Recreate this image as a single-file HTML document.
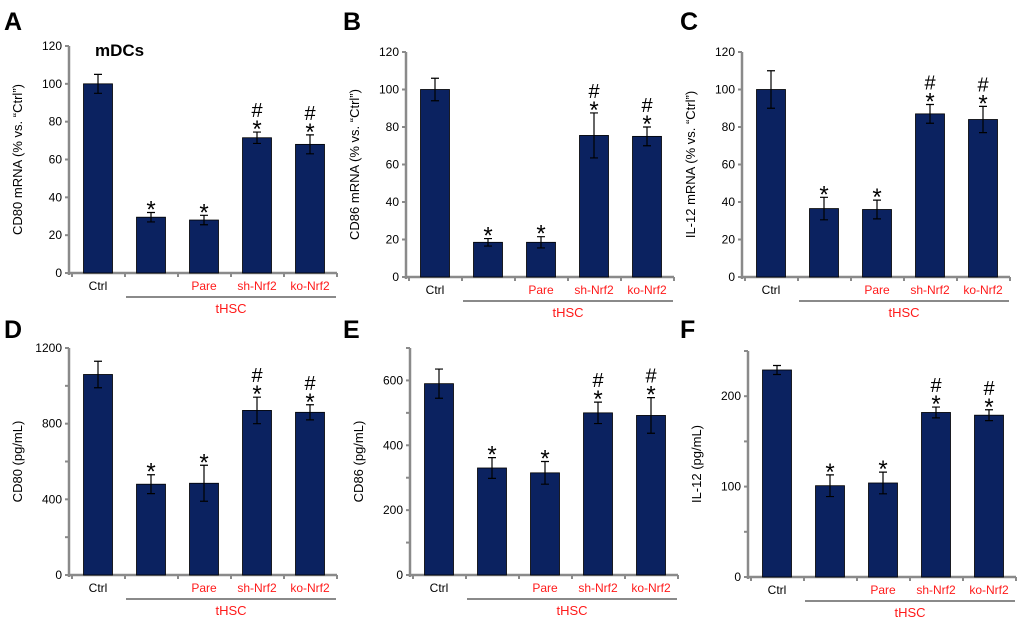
<!DOCTYPE html>
<html><head><meta charset="utf-8"><style>
html,body{margin:0;padding:0;background:#fff;}
svg{display:block;font-family:"Liberation Sans",Arial,sans-serif;}
</style></head><body>
<svg id="fig" width="1020" height="622" viewBox="0 0 1020 622" xmlns="http://www.w3.org/2000/svg"></svg>
<script>
const categories = ["Ctrl", "", "Pare", "sh-Nrf2", "ko-Nrf2"];
const valuesA = [100, 29.5, 28, 71.5, 68];
const errorsA = [5, 2.5, 2.5, 3, 5];
const valuesB = [100, 18.5, 18.5, 75.5, 75];
const errorsB = [6, 2, 3, 12, 5];
const valuesC = [100, 36.5, 36, 87, 84];
const errorsC = [10, 6, 5, 5, 7];
const valuesD = [1060, 480, 485, 870, 860];
const errorsD = [70, 50, 95, 70, 40];
const valuesE = [590, 330, 315, 500, 492];
const errorsE = [45, 32, 35, 33, 55];
const valuesF = [229, 101, 104, 182, 179];
const errorsF = [5, 12, 12, 6, 6];
const marks = ["", "*", "*", "#*", "#*"];
const ticksA = [0,20,40,60,80,100,120];
const ticksD = [0,400,800,1200];
const ticksE = [0,200,400,600];
const ticksF = [0,100,200];

const NS = "http://www.w3.org/2000/svg";
const svg = document.getElementById('fig');
function el(tag, attrs, parent, text){
  const e = document.createElementNS(NS, tag);
  for (const k in attrs) e.setAttribute(k, attrs[k]);
  if (text !== undefined) e.textContent = text;
  (parent || svg).appendChild(e);
  return e;
}
const panels = [
  {id:"a", letter:"A", lx:4, ly:30, ax:69, y0:273, yTop:46, max:120, ticks:ticksA, minor:20, vals:valuesA, errs:errorsA, title:"CD80 mRNA (% vs. \u201cCtrl\u201d)"},
  {id:"b", letter:"B", lx:343, ly:30, ax:406, y0:277, yTop:52, max:120, ticks:ticksA, minor:20, vals:valuesB, errs:errorsB, title:"CD86 mRNA (% vs. \u201cCtrl\u201d)"},
  {id:"c", letter:"C", lx:680, ly:30, ax:742, y0:277, yTop:52, max:120, ticks:ticksA, minor:20, vals:valuesC, errs:errorsC, title:"IL-12 mRNA (% vs. \u201cCtrl\u201d)"},
  {id:"d", letter:"D", lx:4, ly:338, ax:69, y0:575, yTop:348, max:1200, ticks:ticksD, minor:200, vals:valuesD, errs:errorsD, title:"CD80  (pg/mL)"},
  {id:"e", letter:"E", lx:343, ly:338, ax:410, y0:575, yTop:348, max:700, ticks:ticksE, minor:100, vals:valuesE, errs:errorsE, title:"CD86  (pg/mL)"},
  {id:"f", letter:"F", lx:680, ly:338, ax:748, y0:577, yTop:351, max:250, ticks:ticksF, minor:50, vals:valuesF, errs:errorsF, title:"IL-12 (pg/mL)"}
];
panels.forEach(p => {
  const g = el('g', {});
  
  
  const y = v => p.y0 - (v / p.max) * (p.y0 - p.yTop);
  const xc = i => p.ax + 29 + i * 53;
  const L = el('text', {x:p.lx, y:p.ly, 'font-size':25, 'font-weight':'bold'}, g, p.letter);
  
  
  const ya = el('line', {x1:p.ax, y1:p.yTop, x2:p.ax, y2:p.y0+2, stroke:'#8a8a8a', 'stroke-width':2.5}, g);
  
  
  const xa = el('line', {x1:p.ax, y1:p.y0, x2:p.ax+268, y2:p.y0, stroke:'#8a8a8a', 'stroke-width':2.5}, g);
  
  
  for (let v = 0; v <= p.max + 1e-9; v += p.minor) {
    el('line', {x1:p.ax-4, y1:y(v), x2:p.ax, y2:y(v), stroke:'#8a8a8a', 'stroke-width':2}, g);
  }
  for (let i = 0; i <= 5; i++) {
    const tx = p.ax + 3 + i * 53;
    el('line', {x1:tx, y1:p.y0, x2:tx, y2:p.y0+4, stroke:'#8a8a8a', 'stroke-width':2}, g);
  }
  p.ticks.forEach(t => {
    const tl = el('text', {x:p.ax-7, y:y(t)+4, 'font-size':12, 'text-anchor':'end'}, g, String(t));
    
    
  });
  const ty = (p.y0 + p.yTop) / 2;
  const tt = el('text', {x:p.ax-47, y:ty, 'font-size':13, 'text-anchor':'middle', transform:`rotate(-90 ${p.ax-47} ${ty})`}, g, p.title);
  
  
  p.vals.forEach((v, i) => {
    const b = el('rect', {x:xc(i)-14.5, y:y(v), width:29, height:p.y0 - y(v), fill:'#0b2260', stroke:'#000', 'stroke-width':0.8}, g);
    
    
    const e = p.errs[i];
    const eb = el('path', {d:`M${xc(i)} ${y(v+e)}V${y(v-e)}M${xc(i)-4} ${y(v+e)}H${xc(i)+4}M${xc(i)-4} ${y(v-e)}H${xc(i)+4}`, stroke:'#000', 'stroke-width':1.2, fill:'none'}, g);
    
    
    const m = marks[i];
    if (m.indexOf('*') >= 0) {
      const s = el('text', {x:xc(i), y:y(v+e)+5, 'font-size':24, 'text-anchor':'middle'}, g, '*');
      
      
    }
    if (m.indexOf('#') >= 0) {
      const h = el('text', {x:xc(i), y:y(v+e)-15, 'font-size':20, 'text-anchor':'middle'}, g, '#');
      
      
    }
    if (categories[i]) {
      const cl = el('text', {x:xc(i), y:p.y0+17, 'font-size':12, 'text-anchor':'middle', fill: i === 0 ? '#000' : '#ff1a1a'}, g, categories[i]);
      
      
    }
  });
  const bl = el('line', {x1:p.ax+57, y1:p.y0+24, x2:p.ax+267, y2:p.y0+24, stroke:'#8a8a8a', 'stroke-width':2}, g);
  
  
  const gl = el('text', {x:p.ax+162, y:p.y0+40, 'font-size':13, 'text-anchor':'middle', fill:'#ff1a1a'}, g, 'tHSC');
  
  
});
const md = el('text', {x:95, y:56, 'font-size':17, 'font-weight':'bold'}, svg, 'mDCs');


</script>
</body></html>
